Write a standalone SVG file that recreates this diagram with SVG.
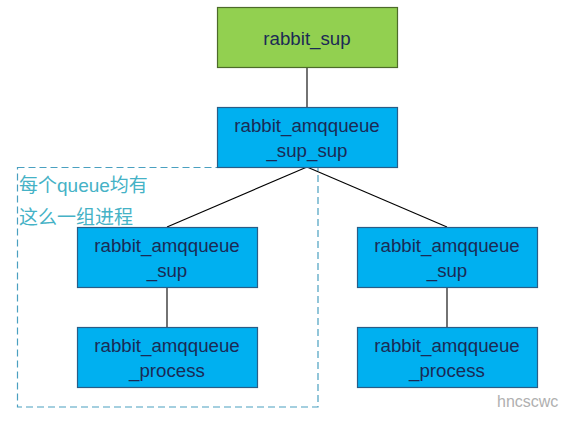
<svg xmlns="http://www.w3.org/2000/svg" width="571" height="423" viewBox="0 0 571 423">
<style>
.box{fill:#00b0f0;stroke:#2a5d86;stroke-width:1.2}
.green{fill:#92d050;stroke:#4d6b2a;stroke-width:1.2}
.t{font-family:"Liberation Sans",Arial,sans-serif;font-size:18.7px;fill:#1b2a55;text-anchor:middle}
.cn{font-family:"Liberation Sans","Noto Sans CJK SC",sans-serif;font-size:19px;fill:#45b2c6}
.wire{stroke:#000;stroke-width:1.1;fill:none}
</style>
<rect width="571" height="423" fill="#fff"/>
<g id="group-box">
<rect x="17.5" y="167.5" width="300.5" height="239.5" fill="none" stroke="#4aa0c0" stroke-width="1.2" stroke-dasharray="7,4"/>
<text class="cn" x="19" y="192">每个queue均有</text>
<text class="cn" x="19" y="224">这么一组进程</text>
</g>
<g id="connectors">
<line class="wire" x1="307" y1="67" x2="307" y2="107"/>
<line class="wire" x1="307" y1="167" x2="167" y2="227"/>
<line class="wire" x1="307" y1="167" x2="447" y2="227"/>
<line class="wire" x1="167" y1="287" x2="167" y2="327"/>
<line class="wire" x1="447" y1="287" x2="447" y2="327"/>
</g>
<g id="rabbit_sup">
<rect class="green" x="217.5" y="7.5" width="180" height="60"/>
<text class="t" x="307" y="45">rabbit_sup</text>
</g>
<g id="amqqueue_sup_sup">
<rect class="box" x="217.5" y="107.5" width="180" height="60"/>
<text class="t" x="307" y="132">rabbit_amqqueue</text>
<text class="t" x="307" y="157">_sup_sup</text>
</g>
<g id="amqqueue_sup_left">
<rect class="box" x="77.5" y="227.5" width="180" height="60"/>
<text class="t" x="167" y="252">rabbit_amqqueue</text>
<text class="t" x="167" y="277">_sup</text>
</g>
<g id="amqqueue_process_left">
<rect class="box" x="77.5" y="327.5" width="180" height="60"/>
<text class="t" x="167" y="352">rabbit_amqqueue</text>
<text class="t" x="167" y="377">_process</text>
</g>
<g id="amqqueue_sup_right">
<rect class="box" x="357.5" y="227.5" width="180" height="60"/>
<text class="t" x="447" y="252">rabbit_amqqueue</text>
<text class="t" x="447" y="277">_sup</text>
</g>
<g id="amqqueue_process_right">
<rect class="box" x="357.5" y="327.5" width="180" height="60"/>
<text class="t" x="447" y="352">rabbit_amqqueue</text>
<text class="t" x="447" y="377">_process</text>
</g>
<g id="watermark">
<text x="497" y="407" font-family="Liberation Sans,Arial,sans-serif" font-size="16px" fill="#b0b0b0">hncscwc</text>
</g>
</svg>
